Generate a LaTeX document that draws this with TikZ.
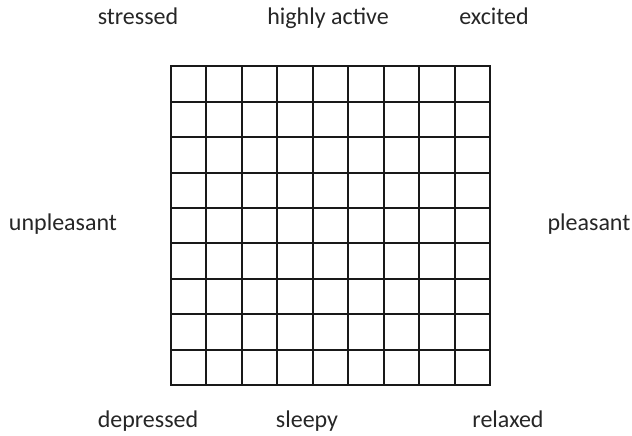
\documentclass[tikz,border=0pt]{standalone}
\usepackage{fontspec}
\setmainfont{Carlito}
\begin{document}
\begin{tikzpicture}[x=1pt,y=-1pt,
  lab/.style={font=\fontsize{24}{28}\selectfont, text=black!85, inner sep=0pt, anchor=base},
  gridline/.style={line width=2pt, black!90}]
\useasboundingbox (0,0) rectangle (632,436);
\foreach \i in {0,...,9} {
  \draw[gridline] ({171+\i*35.44},66.5) -- ({171+\i*35.44},385);
  \draw[gridline] (171,{66.5+\i*35.39}) -- (490,{66.5+\i*35.39});
}
\draw[gridline] (171,66.5) rectangle (490,385);
\node[lab] (stressed) at (138,25) {stressed};
\node[lab] (active) at (328,25) {highly active};
\node[lab] (excited) at (494,25) {excited};
\node[lab] (unpleasant) at (63,230) {unpleasant};
\node[lab] (pleasant) at (589,230) {pleasant};
\node[lab] (depressed) at (148,427) {depressed};
\node[lab] (sleepy) at (307,427) {sleepy};
\node[lab] (relaxed) at (508,427) {relaxed};
\end{tikzpicture}
\end{document}
